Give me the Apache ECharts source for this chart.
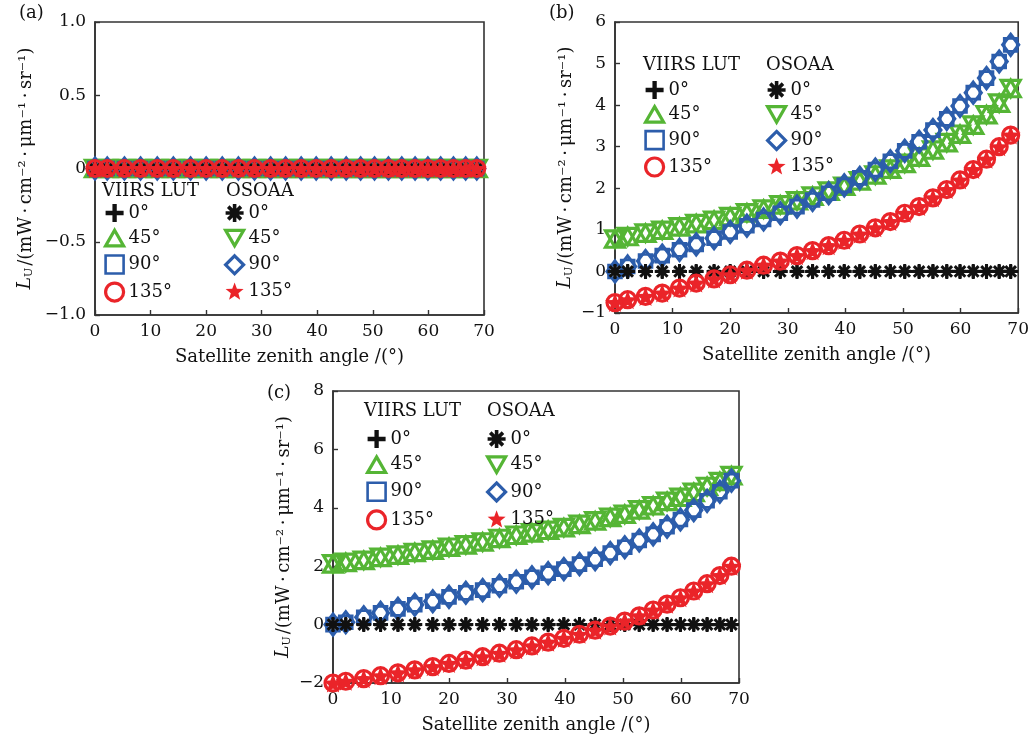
<!DOCTYPE html>
<html>
<head>
<meta charset="utf-8">
<script src="https://cdn.jsdelivr.net/npm/echarts@6/dist/echarts.min.js"></script>
<style>
  html, body { margin: 0; padding: 0; background: #ffffff; }
  #chart { width: 1032px; height: 738px; }
</style>
</head>
<body>
<div id="chart"></div>
<script>
// Satellite zenith angles (degrees) of the sampled geometries
const zenithAngles = [0, 2.2, 5.3, 8.2, 11.2, 14.1, 17.2, 20.0, 22.9, 25.8, 28.7, 31.6, 34.3, 37.1,
  39.8, 42.5, 45.2, 47.8, 50.3, 52.8, 55.2, 57.6, 59.9, 62.2, 64.5, 66.7, 68.7];

// Relative azimuth angles shown in each panel
const azimuthLabels = ['0°', '45°', '90°', '135°'];

// Panel (a): upwelling polarized radiance L_U, all azimuths
const a0   = [0,0,0,0,0,0,0,0,0,0,0,0,0,0,0,0,0,0,0,0,0,0,0,0,0,0,0];
const a45  = [0,0,0,0,0,0,0,0,0,0,0,0,0,0,0,0,0,0,0,0,0,0,0,0,0,0,0];
const a90  = [0,0,0,0,0,0,0,0,0,0,0,0,0,0,0,0,0,0,0,0,0,0,0,0,0,0,0];
const a135 = [0,0,0,0,0,0,0,0,0,0,0,0,0,0,0,0,0,0,0,0,0,0,0,0,0,0,0];

// Panel (b)
const b0   = [0,0,0,0,0,0,0,0,0,0,0,0,0,0,0,0,0,0,0,0,0,0,0,0,0,0,0];
const b45  = [0.78, 0.84, 0.92, 0.99, 1.07, 1.15, 1.23, 1.32, 1.41, 1.50, 1.60, 1.70, 1.81, 1.93,
  2.05, 2.18, 2.32, 2.46, 2.60, 2.75, 2.92, 3.10, 3.30, 3.52, 3.77, 4.05, 4.40];
const b90  = [0.00, 0.12, 0.25, 0.38, 0.52, 0.65, 0.80, 0.95, 1.10, 1.25, 1.40, 1.56, 1.72, 1.88,
  2.07, 2.25, 2.45, 2.65, 2.90, 3.12, 3.40, 3.67, 3.98, 4.30, 4.65, 5.05, 5.45];
const b135 = [-0.75, -0.68, -0.60, -0.52, -0.40, -0.28, -0.18, -0.08, 0.03, 0.15, 0.25, 0.38, 0.50, 0.62,
  0.75, 0.90, 1.05, 1.20, 1.40, 1.56, 1.77, 1.97, 2.20, 2.45, 2.70, 3.00, 3.28];

// Panel (c)
const c0   = [0,0,0,0,0,0,0,0,0,0,0,0,0,0,0,0,0,0,0,0,0,0,0,0,0,0,0];
const c45  = [2.08, 2.13, 2.20, 2.30, 2.38, 2.47, 2.55, 2.65, 2.73, 2.83, 2.95, 3.06, 3.14, 3.23,
  3.32, 3.43, 3.55, 3.67, 3.78, 3.93, 4.07, 4.22, 4.36, 4.53, 4.73, 4.90, 5.10];
const c90  = [0.00, 0.08, 0.25, 0.40, 0.54, 0.68, 0.80, 0.95, 1.09, 1.18, 1.33, 1.47, 1.62, 1.76,
  1.90, 2.07, 2.24, 2.45, 2.65, 2.88, 3.09, 3.35, 3.60, 3.92, 4.24, 4.55, 4.93];
const c135 = [-2.00, -1.94, -1.85, -1.75, -1.65, -1.55, -1.44, -1.33, -1.22, -1.10, -0.98, -0.86, -0.73, -0.60,
  -0.47, -0.33, -0.19, -0.05, 0.12, 0.30, 0.50, 0.70, 0.92, 1.15, 1.40, 1.68, 2.00];

// Y-axis ranges and tick steps per panel
const yMin  = [-1, -1, -2];
const yMax  = [1, 6, 8];
const yStep = [0.5, 1, 2];

const panelValues = [
  [a0, a45, a90, a135],
  [b0, b45, b90, b135],
  [c0, c45, c90, c135]
];

// ---- marker shapes ----
const PLUS = 'path://M38,0L62,0L62,38L100,38L100,62L62,62L62,100L38,100L38,62L0,62L0,38L38,38Z';
const ASTERISK = 'path://M100,40L100,60L0,60L0,40Z' +
  'M60,100L40,100L40,0L60,0Z' +
  'M92.43,78.29L78.29,92.43L7.57,21.71L21.71,7.57Z' +
  'M21.71,92.43L7.57,78.29L78.29,7.57L92.43,21.71Z';
const TRI_UP = 'path://M50,0L100,86.6L0,86.6Z';
const TRI_DOWN = 'path://M0,0L100,0L50,86.6Z';
const STAR = 'path://M50,0L62.34,33.01L97.55,34.55L69.97,56.49L79.39,90.45L50,71L20.61,90.45L30.03,56.49L2.45,34.55L37.66,33.01Z';

const GREEN = '#55b535';
const BLUE = '#2c5dab';
const RED = '#ea2429';
const BLACK = '#111111';

// style per [azimuth][model]  model 0 = VIIRS LUT, 1 = OSOAA
const markerStyle = [
  [ { symbol: PLUS, size: 13, fill: BLACK, stroke: BLACK, width: 0 },
    { symbol: ASTERISK, size: 15, fill: BLACK, stroke: BLACK, width: 0 } ],
  [ { symbol: TRI_UP, size: 19, fill: 'transparent', stroke: GREEN, width: 3.2 },
    { symbol: TRI_DOWN, size: 19, fill: 'transparent', stroke: GREEN, width: 3.2 } ],
  [ { symbol: 'rect', size: 13, fill: 'transparent', stroke: BLUE, width: 2.6 },
    { symbol: 'diamond', size: [16, 21], fill: 'transparent', stroke: BLUE, width: 3.2 } ],
  [ { symbol: 'circle', size: 16, fill: 'transparent', stroke: RED, width: 3.2 },
    { symbol: STAR, size: 20, fill: RED, stroke: RED, width: 0 } ]
];
const modelNames = ['VIIRS LUT', 'OSOAA'];

// drawing order: 45°, 90°, 0°, 135° (later ones sit on top)
const drawOrder = [1, 2, 0, 3];

// ---- layout ----
const FONT = 'DejaVu Serif';
const grids = [
  { left: 95, top: 22, width: 389, height: 293 },
  { left: 615, top: 22, width: 404, height: 291 },
  { left: 333, top: 391, width: 406, height: 292 }
];
const yNameGap = [60, 40, 40];
const legendPos = [
  { head: [102, 193], cols: [[104, 204], [224, 204]], heads: [102, 226], gap: 6.7 },
  { head: [643, 67], cols: [[644, 81], [766, 81]], heads: [643, 766], gap: 6 },
  { head: [364, 413], cols: [[366, 430], [486, 430]], heads: [364, 487], gap: 7.3 }
];
const panelTags = [['(a)', 19, 4], ['(b)', 549, 4], ['(c)', 267, 384]];

function seriesName(p, az, m) {
  return String.fromCharCode(97 + p) + ' ' + modelNames[m] + ' ' + azimuthLabels[az];
}

const series = [];
panelValues.forEach(function (vals, p) {
  drawOrder.forEach(function (az) {
    [0, 1].forEach(function (m) {
      const st = markerStyle[az][m];
      series.push({
        name: seriesName(p, az, m),
        type: 'scatter',
        xAxisIndex: p,
        yAxisIndex: p,
        symbol: st.symbol,
        symbolSize: st.size,
        symbolKeepAspect: true,
        itemStyle: { color: st.fill, borderColor: st.stroke, borderWidth: st.width, opacity: 1 },
        emphasis: { disabled: true },
        animation: false,
        data: zenithAngles.map(function (x, i) { return [x, vals[az][i]]; })
      });
    });
  });
});

function fmtY(p) {
  return function (v) {
    if (Math.abs(v) < 1e-9) return '0';
    const s = p === 0 ? v.toFixed(1) : String(Math.round(v));
    return s.replace('-', '\u2212');
  };
}

const xAxes = grids.map(function (g, p) {
  return {
    type: 'value', gridIndex: p, min: 0, max: 70, interval: 10,
    name: 'Satellite zenith angle /(°)', nameLocation: 'middle', nameGap: 33,
    nameTextStyle: { fontFamily: FONT, fontSize: 18, color: '#111' },
    axisLine: { show: true, onZero: false, lineStyle: { color: '#333', width: 1.6 } },
    axisTick: { show: true, inside: true, length: 5, lineStyle: { color: '#333', width: 1.4 } },
    axisLabel: { fontFamily: FONT, fontSize: 17, color: '#111', margin: 8 },
    splitLine: { show: false }
  };
});

const yAxes = grids.map(function (g, p) {
  return {
    type: 'value', gridIndex: p, min: yMin[p], max: yMax[p], interval: yStep[p],
    name: '{i|L}{s|U}{n|/(mW\u2009·\u2009cm⁻²\u2009·\u2009μm⁻¹\u2009·\u2009sr⁻¹)}',
    nameLocation: 'middle', nameGap: yNameGap[p],
    nameTextStyle: {
      fontFamily: FONT, fontSize: 18, color: '#111',
      rich: {
        i: { fontFamily: FONT, fontSize: 19, fontStyle: 'italic', color: '#111', lineHeight: 22, verticalAlign: 'bottom' },
        s: { fontFamily: FONT, fontSize: 11, color: '#111', lineHeight: 22, verticalAlign: 'bottom', padding: [0, 2, 0, 0] },
        n: { fontFamily: FONT, fontSize: 18, color: '#111', lineHeight: 22, verticalAlign: 'bottom' }
      }
    },
    axisLine: { show: true, onZero: false, lineStyle: { color: '#333', width: 1.6 } },
    axisTick: { show: true, inside: true, length: 5, lineStyle: { color: '#333', width: 1.4 } },
    axisLabel: { fontFamily: FONT, fontSize: 17, color: '#111', margin: 9, formatter: fmtY(p) },
    splitLine: { show: false }
  };
});

const legends = [];
const graphics = [];
legendPos.forEach(function (lp, p) {
  [0, 1].forEach(function (m) {
    legends.push({
      orient: 'vertical',
      left: lp.cols[m][0], top: lp.cols[m][1],
      itemWidth: 18, itemHeight: 18, itemGap: lp.gap,
      selectedMode: false,
      padding: 0,
      itemStyle: { borderWidth: 'inherit' },
      textStyle: { fontFamily: FONT, fontSize: 18, color: '#111', padding: [0, 0, 0, 0] },
      formatter: function (name) { return name.split(' ').pop(); },
      data: [0, 1, 2, 3].map(function (az) { return seriesName(p, az, m); })
    });
    graphics.push({
      type: 'text', left: lp.heads[m], top: lp.head[1] - 11,
      style: { text: modelNames[m], font: '18px "' + FONT + '"', fill: '#111' }
    });
  });
});
panelTags.forEach(function (t) {
  graphics.push({
    type: 'text', left: t[1], top: t[2],
    style: { text: t[0], font: '18px "' + FONT + '"', fill: '#111' }
  });
});

const chart = echarts.init(document.getElementById('chart'), null, { renderer: 'canvas' });
chart.setOption({
  backgroundColor: '#ffffff',
  animation: false,
  grid: grids.map(function (g) {
    return Object.assign({ show: true, borderColor: '#333', borderWidth: 1.6, backgroundColor: 'transparent' }, g);
  }),
  xAxis: xAxes,
  yAxis: yAxes,
  legend: legends,
  graphic: graphics,
  series: series
});
</script>
</body>
</html>
